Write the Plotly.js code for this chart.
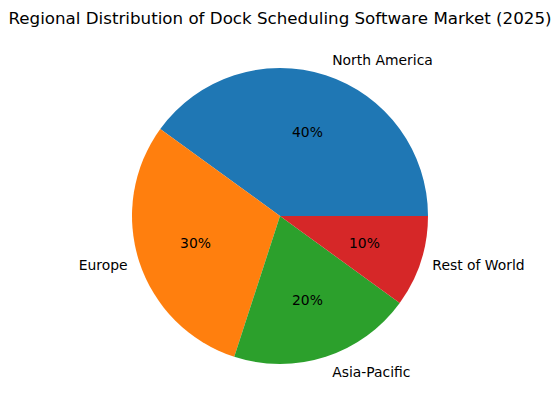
<!DOCTYPE html>
<html>
<head>
<meta charset="utf-8">
<script src="https://cdn.plot.ly/plotly-3.0.1.min.js"></script>
<style>html,body{margin:0;padding:0;background:#fff}#chart{width:560px;height:411px}</style>
</head>
<body>
<div id="chart"></div>
<script>
const regions = ["North America", "Europe", "Asia-Pacific", "Rest of World"];
const shares = [40, 30, 20, 10];
const colors = ["#1f77b4", "#ff7f0e", "#2ca02c", "#d62728"];

const font = {family: "DejaVu Sans", size: 13.9, color: "#000"};
const clear = regions.map(() => "rgba(0,0,0,0)");
const common = {
  type: "pie",
  labels: regions,
  values: shares,
  sort: false,
  direction: "counterclockwise",
  rotation: -54,
  hoverinfo: "skip",
  showlegend: false
};
// plot area: l=r=124 -> 312 wide; t=50,b=29 -> 332 tall; pie centre at (280,216)
const W = 312, H = 332, R = 148;
function dom(rad) {
  return {x: [0.5 - rad / W, 0.5 + rad / W], y: [0.5 - rad / H, 0.5 + rad / H]};
}
const data = [
  Object.assign({}, common, {
    domain: dom(R),
    marker: {colors: colors, line: {width: 0}},
    textinfo: "none"
  }),
  Object.assign({}, common, {
    domain: dom(156),
    marker: {colors: clear, line: {width: 0}},
    textinfo: "label",
    textposition: "outside",
    outsidetextfont: font
  })
];
// percentage labels at 0.6 of the radius (one transparent helper pie per slice)
const total = shares.reduce((a, b) => a + b, 0);
shares.forEach((v, i) => {
  const half = Math.PI * v / total;
  const f = 1 / (1 + 1 / Math.sin(half));
  let rad = R, hole = 0.2;
  if (f < 0.4) { rad = 0.6 * R / (1 - f); hole = 0; }
  data.push(Object.assign({}, common, {
    domain: dom(rad),
    hole: hole,
    marker: {colors: clear, line: {width: 0}},
    texttemplate: "%{percent:.0%}",
    textposition: regions.map((_, j) => j === i ? "inside" : "none"),
    insidetextorientation: "horizontal",
    insidetextfont: font
  }));
});
const layout = {
  width: 560, height: 411,
  paper_bgcolor: "#fff",
  margin: {l: 124, r: 124, t: 50, b: 29},
  title: {text: "Regional Distribution of Dock Scheduling Software Market (2025)", font: {family: "DejaVu Sans", size: 16.7, color: "#000"}, x: 0.5, xanchor: "center", y: 0.956, yanchor: "middle"}
};
Plotly.newPlot("chart", data, layout, {displayModeBar: false, staticPlot: true});
</script>
</body>
</html>
